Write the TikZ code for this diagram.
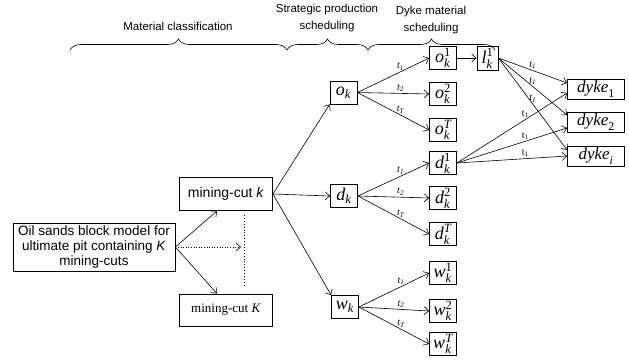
\documentclass[tikz,border=0pt]{standalone}
\usepackage{fontspec}
\setmainfont{Liberation Serif}
\setsansfont{Liberation Sans}
\usepackage{amsmath}
\usetikzlibrary{arrows.meta,decorations.pathreplacing}
\newcommand{\vr}[1]{\text{\itshape #1}}

\begin{document}
\begin{tikzpicture}[x=1pt,y=-1pt,
    box/.style={draw, line width=0.8pt, inner sep=1pt},
    var/.style={box, minimum width=27pt, minimum height=23pt, font=\fontsize{18}{18}\selectfont},
    dyke/.style={box, minimum width=57pt, minimum height=20pt, font=\fontsize{17}{17}\selectfont},
    arr/.style={-{Straight Barb[length=4.5pt,width=8pt]}, line width=0.6pt},
    tlab/.style={font=\fontsize{10}{10}\selectfont, inner sep=1.5pt},
    phase/.style={font=\sffamily\fontsize{11.5}{17}\selectfont, align=center},
    brc/.style={decorate, decoration={brace, amplitude=11pt}, line width=0.6pt}]
   \useasboundingbox (0,0) rectangle (629,360);
   % phases
   \coordinate (b0) at (70,50);
   \coordinate (b1) at (287,50);
   \coordinate (b2) at (368,50);
   \coordinate (b3) at (495,50);
   \draw[brc] (b0) -- (b1);
   \draw[brc] (b1) -- (b2);
   \draw[brc] (b2) -- (b3);
   \node[phase] (p1) at (178,26) {Material classification};
   \node[phase] (p2) at (327,18) {Strategic production\\scheduling};
   \node[phase] (p3) at (431,20) {Dyke material\\scheduling};
   % block model and mining-cuts
   \node[box, align=center, minimum width=162pt, minimum height=48pt,
         font=\sffamily\fontsize{13.5}{15}\selectfont] (oil) at (94,247)
         {Oil sands block model for\\ultimate pit containing \textit{K}\\mining-cuts};
   \node[box, minimum width=93pt, minimum height=33pt,
         font=\sffamily\fontsize{14}{14}\selectfont] (mck) at (226,194) {mining-cut \textit{k}};
   \node[box, minimum width=93pt, minimum height=32pt,
         font=\fontsize{13}{13}\selectfont] (mcK) at (226,310) {mining-cut \textit{K}};
   \coordinate (dotend) at (241,247);
   \coordinate (vtop) at (244,215);
   \coordinate (vbot) at (244,287);
   \draw[arr] (oil.east) -- ([xshift=-9pt]mck.south);
   \draw[arr, dotted] (oil.east) -- (dotend);
   \draw[arr] (oil.east) -- ([xshift=-9pt]mcK.north);
   \draw[dotted, line width=0.9pt] (vtop) -- (vbot);
   % material classes
   \node[var] (ok) at (343.5,92.5) {$\vr{o}_{\vr{k}}$};
   \node[var] (dk) at (344,196) {$\vr{d}_{\vr{k}}$};
   \node[var] (wk) at (345,307) {$\vr{w}_{\vr{k}}$};
   \draw[arr] (mck.east) -- (ok.south west);
   \draw[arr] (mck.east) -- (dk.west);
   \draw[arr] (mck.east) -- (wk.north west);
   % periods
   \node[var] (o1) at (443,58)  {$\vr{o}_{\vr{k}}^{\text{1}}$};
   \node[var] (o2) at (443,94)  {$\vr{o}_{\vr{k}}^{\text{2}}$};
   \node[var] (oT) at (443,130) {$\vr{o}_{\vr{k}}^{\vr{T}}$};
   \node[var] (d1) at (443,163) {$\vr{d}_{\vr{k}}^{\text{1}}$};
   \node[var] (d2) at (443,198) {$\vr{d}_{\vr{k}}^{\text{2}}$};
   \node[var] (dT) at (443,234) {$\vr{d}_{\vr{k}}^{\vr{T}}$};
   \node[var] (w1) at (443,273) {$\vr{w}_{\vr{k}}^{\text{1}}$};
   \node[var] (w2) at (443,311) {$\vr{w}_{\vr{k}}^{\text{2}}$};
   \node[var] (wT) at (443,344) {$\vr{w}_{\vr{k}}^{\vr{T}}$};
   \foreach \m in {o,d,w} {
      \draw[arr] (\m k.east) -- node[tlab, above, pos=0.6] {$\vr{t}_{\vr{1}}$} (\m1.west);
      \draw[arr] (\m k.east) -- node[tlab, above, pos=0.6] {$\vr{t}_{\vr{2}}$} (\m2.west);
      \draw[arr] (\m k.east) -- node[tlab, above, pos=0.6] {$\vr{t}_{\vr{T}}$} (\m T.west);
   }
   % dyke material
   \node[var, minimum width=21pt, minimum height=24pt] (l1) at (487.5,58) {$\vr{l}_{\vr{k}}^{\text{1}}$};
   \draw[arr] (o1) -- (l1);
   \node[dyke] (dyke1) at (596,89)  {$\vr{dyke}_{\text{1}}$};
   \node[dyke] (dyke2) at (596,122) {$\vr{dyke}_{\text{2}}$};
   \node[dyke] (dykei) at (596,156) {$\vr{dyke}_{\vr{i}}$};
   \foreach \j/\a/\b in {1/6/-4, 2/7/-6, i/6/0} {
      \draw[arr] (l1.east) -- node[tlab, above, pos=0.5] {$\vr{t}_{\vr{1}}$} ([yshift=\a pt]dyke\j.west);
      \draw[arr] (d1.east) -- node[tlab, above, pos=0.62] {t$_{\text{1}}$} ([yshift=\b pt]dyke\j.west);
   }
\end{tikzpicture}
\end{document}
